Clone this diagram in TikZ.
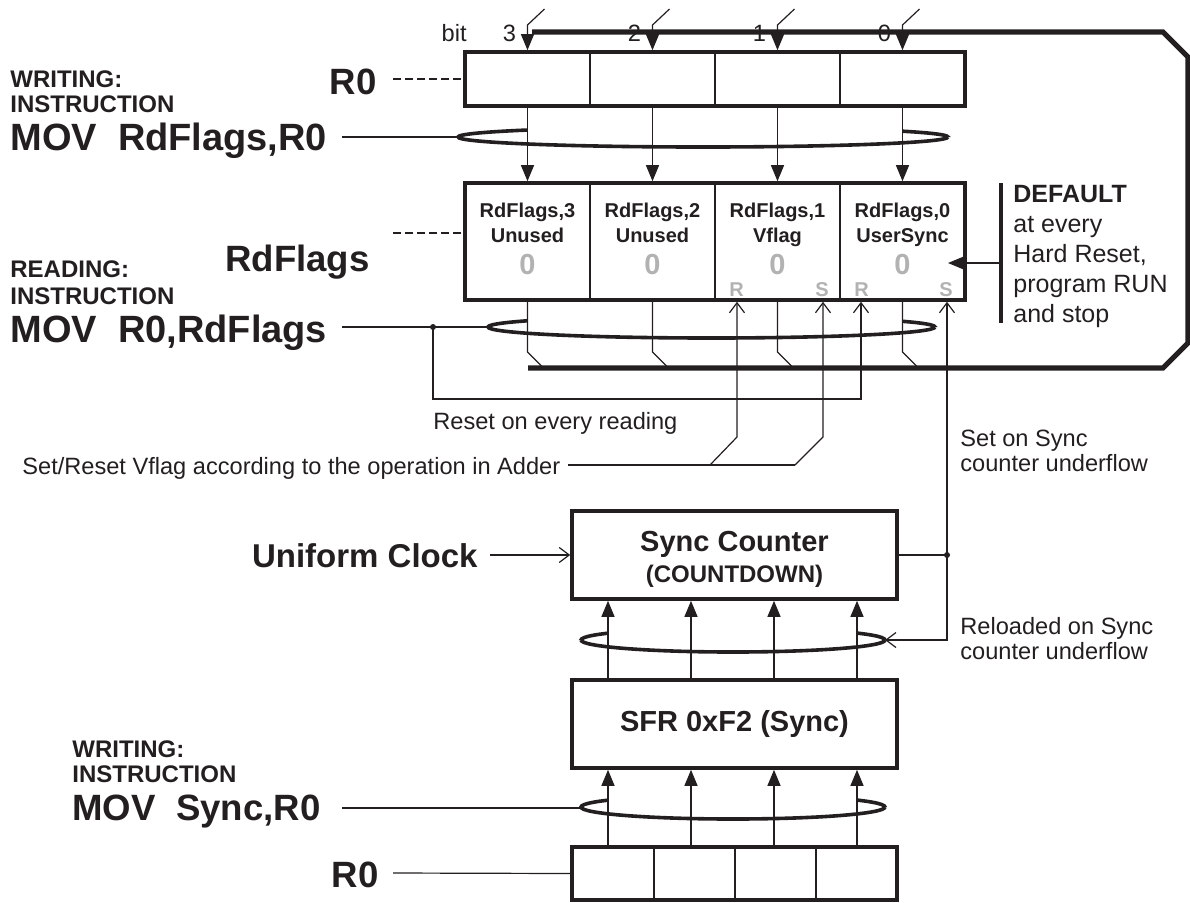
\documentclass[tikz,border=0pt]{standalone}
\usepackage{fontspec}
\setmainfont{Liberation Sans}
\usetikzlibrary{arrows.meta}
\definecolor{ink}{RGB}{35,31,32}
\definecolor{flaggray}{gray}{0.7}
\tikzset{
  regbox/.style={draw,line width=1.8pt,inner sep=0pt},
  cellline/.style={line width=0.6pt},
  wire/.style={line width=0.6pt},
  bus/.style={line width=2.6pt},
  lasso/.style={line width=1.8pt},
  filltip/.style={wire,-{Triangle[length=8pt,width=6.5pt]}},
  opentip/.style={wire,-{Straight Barb[length=5pt,width=7.5pt]}},
  biglbl/.style={font=\bfseries\fontsize{18.3}{20}\selectfont,inner sep=0pt},
  movlbl/.style={font=\bfseries\fontsize{19}{21}\selectfont,inner sep=0pt},
  midlbl/.style={font=\bfseries\fontsize{12}{14}\selectfont,inner sep=0pt},
  clklbl/.style={font=\bfseries\fontsize{16.5}{18}\selectfont,inner sep=0pt},
  boxlbl/.style={font=\bfseries\fontsize{14.5}{16}\selectfont},
  txt/.style={font=\fontsize{11.8}{14}\selectfont,inner sep=0pt},
  deflbl/.style={font=\fontsize{12.5}{15}\selectfont,inner sep=0pt},
  celltxt/.style={font=\bfseries\fontsize{10}{12}\selectfont,inner sep=0pt},
  zero/.style={font=\bfseries\fontsize{14.5}{16}\selectfont,text=flaggray,inner sep=0pt},
  rs/.style={font=\bfseries\fontsize{10}{11}\selectfont,text=flaggray,inner sep=0pt},
}
% loop round a group of lines: cx, cy, rx, ry, first line, last line
\newcommand{\buslasso}[6]{%
  \begin{scope}
    \clip ({#1-#3-6},#2) rectangle (#5,{#2-#4-6}) (#6,#2) rectangle ({#1+#3+6},{#2-#4-6});
    \draw[lasso] (#1,#2) ellipse[x radius=#3,y radius=#4];
  \end{scope}
  \draw[lasso] ({#1+#3},#2) arc[start angle=0,end angle=180,x radius=#3,y radius=#4];}

\begin{document}
\begin{tikzpicture}[x=0.5pt,y=-0.5pt,color=ink]
  \useasboundingbox (0,0) rectangle (1190,902);

  % registers
  \node[regbox,minimum width=250pt,minimum height=27pt] (r0top) at (715,79) {};
  \node[regbox,minimum width=250pt,minimum height=58.5pt] (rdflags) at (715,241.5) {};
  \node[regbox,minimum width=162.5pt,minimum height=44pt] (sync) at (734.5,555) {};
  \node[regbox,boxlbl,minimum width=162.5pt,minimum height=44pt] (sfr) at (734.5,724) {SFR 0xF2 (Sync)};
  \node[regbox,minimum width=162.5pt,minimum height=26.5pt] (r0bot) at (734.5,873.5) {};
  \foreach \x in {590,715,840} {
    \draw[cellline] (\x,0 |- r0top.north) -- (\x,0 |- r0top.south);
    \draw[cellline] (\x,0 |- rdflags.north) -- (\x,0 |- rdflags.south);
  }
  \foreach \x in {654,735,816}
    \draw[cellline] (\x,0 |- r0bot.north) -- (\x,0 |- r0bot.south);

  % flag cells
  \foreach \b/\x/\fname in {3/527.5/Unused,2/652.5/Unused,1/777.5/Vflag,0/902.5/UserSync} {
    \node[celltxt,anchor=base] (fl\b) at (\x,217) {RdFlags,\b};
    \node[celltxt,anchor=base] (fn\b) at (\x,242) {\fname};
    \node[zero,anchor=base] (fz\b) at (\x,274) {0};
  }
  \node[rs,anchor=base west] (rflag1) at (729,296) {R};
  \node[rs,anchor=base east] (sflag1) at (829,296) {S};
  \node[rs,anchor=base west] (rflag0) at (854,296) {R};
  \node[rs,anchor=base east] (sflag0) at (953,296) {S};

  % bit numbers, write arrows and the bus
  \node[txt,anchor=base east] (bitlbl) at (467,41) {bit};
  \foreach \b/\x in {3/527.5,2/652.5,1/777.5,0/902.5} {
    \node[txt,anchor=base] (bn\b) at ({\x-18},41) {\b};
    \draw[filltip] ({\x+17},9) -- (\x,25) -- (\x,0 |- r0top.north);
    \draw[filltip] (\x,0 |- r0top.south) -- (\x,0 |- rdflags.north);
    \draw[wire] (\x,0 |- rdflags.south) -- (\x,352) -- ({\x+14},366);
  }
  \draw[bus] (532,32) -- (1163,32) -- (1188,57) -- (1188,343) -- (1163,368) -- (528,368);

  % lassos
  \buslasso{703}{137}{245}{10}{527.5}{902.5}
  \buslasso{711.5}{327}{223.5}{11}{527.5}{902.5}
  \buslasso{733}{640}{152}{12}{608}{857}
  \buslasso{733}{807}{152}{12}{608}{857}

  % instructions, upper part
  \node[midlbl,anchor=base west] (wr1) at (10,87) {WRITING:};
  \node[midlbl,anchor=base west] (in1) at (10,112) {INSTRUCTION};
  \node[movlbl,anchor=base west] (mov1) at (10,150) {MOV\ \ RdFlags,R0};
  \node[biglbl,anchor=base east] (r0lbl) at (377,94) {R0};
  \node[biglbl,anchor=base east] (rdlbl) at (370,271) {RdFlags};
  \node[midlbl,anchor=base west] (rd1) at (10,277) {READING:};
  \node[midlbl,anchor=base west] (in2) at (10,304) {INSTRUCTION};
  \node[movlbl,anchor=base west] (mov2) at (10,342) {MOV\ \ R0,RdFlags};
  \coordinate (mov1end) at (342,137);
  \coordinate (mov2end) at (342,327);
  \coordinate (rstdot) at (433,327);
  \draw[wire] (mov1end) -- (458,137);
  \draw[wire] (mov2end) -- (488,327);
  \draw[wire,dash pattern=on 4pt off 2pt] (393,79) -- (r0top.west);
  \draw[wire,dash pattern=on 4pt off 2pt] (393,233) -- (rdflags.west |- 0,233);
  \fill (rstdot) circle[radius=3];
  \draw[opentip] (rstdot) -- (433,399) -- (861,399) -- (861,0 |- rdflags.south);
  \node[txt,anchor=base west] (rstlbl) at (433,429) {Reset on every reading};

  % adder
  \node[txt,anchor=base west] (adderlbl) at (22,474) {Set/Reset Vflag according to the operation in Adder};
  \coordinate (adder) at (568,465);
  \draw[wire] (adder) -- (795,465);
  \draw[opentip] (710,465) -- (737,437) -- (737,0 |- rdflags.south);
  \draw[opentip] (795,465) -- (823,437) -- (823,0 |- rdflags.south);

  % default values
  \draw[line width=1.6pt] (1001,183) -- (1001,323);
  \draw[filltip] (1001,263) -- (948,263);
  \node[deflbl,font=\bfseries\fontsize{12.5}{15}\selectfont,anchor=base west] (deflt) at (1013,202) {DEFAULT};
  \foreach \t/\y in {at every/232,{Hard Reset,}/262,program RUN/292,and stop/322}
    \node[deflbl,anchor=base west] at (1013,\y) {\t};

  % sync counter
  \node[boxlbl,inner sep=0pt,anchor=base] (synclbl) at (sync.center |- 0,551) {Sync Counter};
  \node[midlbl,anchor=base] (cdlbl) at (sync.center |- 0,582) {(COUNTDOWN)};
  \node[clklbl,anchor=base east] (uclk) at (478,567) {Uniform Clock};
  \coordinate (clkend) at (490,555);
  \draw[opentip] (clkend) -- (sync.west);
  \coordinate (junc) at (947,555);
  \draw[wire] (sync.east) -- (junc);
  \fill (junc) circle[radius=3];
  \draw[opentip] (junc) -- (junc |- rdflags.south);
  \draw[opentip] (junc) -- (947,640) -- (885,640);
  \node[txt,anchor=base west] (setu1) at (960,446) {Set on Sync};
  \node[txt,anchor=base west] (setu2) at (960,471) {counter underflow};
  \node[txt,anchor=base west] (rel1) at (960,634) {Reloaded on Sync};
  \node[txt,anchor=base west] (rel2) at (960,659) {counter underflow};
  \foreach \x in {608,691,774,857} {
    \draw[filltip] (\x,0 |- r0bot.north) -- (\x,0 |- sfr.south);
    \draw[filltip] (\x,0 |- sfr.north) -- (\x,0 |- sync.south);
  }

  % instructions, lower part
  \node[midlbl,anchor=base west] (wr3) at (72,757) {WRITING:};
  \node[midlbl,anchor=base west] (in3) at (72,782) {INSTRUCTION};
  \node[biglbl,anchor=base west] (mov3) at (72,820) {MOV\ \ Sync,R0};
  \node[biglbl,anchor=base east] (r0low) at (379,887) {R0};
  \coordinate (mov3end) at (342,808);
  \coordinate (r0lowend) at (393,873);
  \draw[wire] (mov3end) -- (581,808);
  \draw[wire] (r0lowend) -- (r0bot.west);
\end{tikzpicture}
\end{document}
